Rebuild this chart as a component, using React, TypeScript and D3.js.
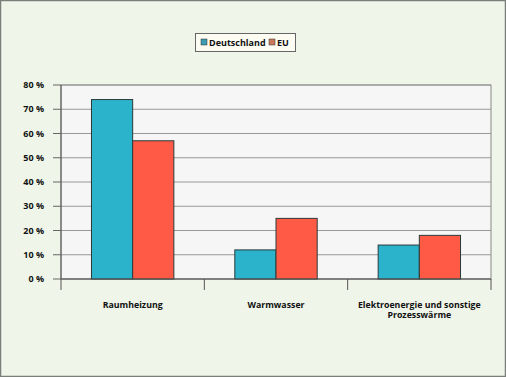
import React from "react";
import * as d3 from "d3";

const categories = ["Raumheizung", "Warmwasser", "Elektroenergie und sonstige\nProzesswärme"];
const seriesNames = ["Deutschland", "EU"];
const deutschland = [74, 12, 14];
const eu = [57, 25, 18];
const yTicks = [0, 10, 20, 30, 40, 50, 60, 70, 80];

const W = 506, H = 377;
const left = 61, right = 491, top = 85, bottom = 279;
const barColors = ["#2bb3cc", "#ff5a45"];
const legendColors = ["#3e9db3", "#c9785a"];
const font = "'Open Sans', 'DejaVu Sans', sans-serif";

export default function App() {
  const x = d3.scaleBand().domain(categories).range([left, right]).paddingInner(0).paddingOuter(0);
  const inner = d3.scaleBand().domain(seriesNames).range([0, x.bandwidth()]).paddingInner(0).paddingOuter(0.74);
  const y = d3.scaleLinear().domain([0, 80]).range([bottom, top]);
  const series = [deutschland, eu];
  const boundaries = [...categories.map((c) => x(c)!), right];
  return (
    <svg width={W} height={H} style={{ position: "absolute", left: 0, top: 0 }} fontFamily={font}>
      <rect x={0.5} y={0.5} width={W - 1} height={H - 1} fill="#eff6e9" stroke="#7a7f7a" strokeWidth={1.5} />
      <rect x={left} y={top} width={right - left} height={bottom - top} fill="#f6f6f6" stroke="#888" strokeWidth={1} />
      {yTicks.map((t) => (
        <g key={t}>
          <line x1={left} x2={right} y1={y(t)} y2={y(t)} stroke="#999" strokeWidth={1} />
          <line x1={left - 8} x2={left} y1={y(t)} y2={y(t)} stroke="#666" strokeWidth={1} />
          <text x={44} y={y(t) + 3} textAnchor="end" fontSize={9} fontWeight="bold" fill="#111">{t} %</text>
        </g>
      ))}
      {categories.map((c, ci) =>
        seriesNames.map((s, si) => (
          <rect key={c + s} x={x(c)! + inner(s)!} width={inner.bandwidth()} y={y(series[si][ci])}
            height={bottom - y(series[si][ci])} fill={barColors[si]} stroke="#2a3a3a" strokeWidth={1} />
        ))
      )}
      <line x1={left} x2={right} y1={bottom} y2={bottom} stroke="#555" strokeWidth={1} />
      <line x1={left} x2={left} y1={top} y2={bottom} stroke="#555" strokeWidth={1} />
      {boundaries.map((b, i) => (
        <line key={i} x1={b} x2={b} y1={bottom} y2={bottom + 11} stroke="#555" strokeWidth={1} />
      ))}
      {categories.map((c) => (
        <text key={c} x={x(c)! + x.bandwidth() / 2} y={307.5} textAnchor="middle" fontSize={8.8} fontWeight="bold" fill="#111">
          {c.split("\n").map((line, i) => (
            <tspan key={i} x={x(c)! + x.bandwidth() / 2} dy={i === 0 ? 0 : 10.5}>{line}</tspan>
          ))}
        </text>
      ))}
      <g>
        <rect x={195.5} y={33.5} width={100} height={18} fill="#fdfcf3" stroke="#666" strokeWidth={1} />
        <rect x={201} y={39} width={6} height={6} fill={legendColors[0]} stroke="#333" strokeWidth={0.5} />
        <text x={209} y={45.5} fontSize={9} fontWeight="bold" fill="#111">{seriesNames[0]}</text>
        <rect x={269} y={39} width={6} height={6} fill={legendColors[1]} stroke="#333" strokeWidth={0.5} />
        <text x={277} y={45.5} fontSize={9} fontWeight="bold" fill="#111">{seriesNames[1]}</text>
      </g>
    </svg>
  );
}
